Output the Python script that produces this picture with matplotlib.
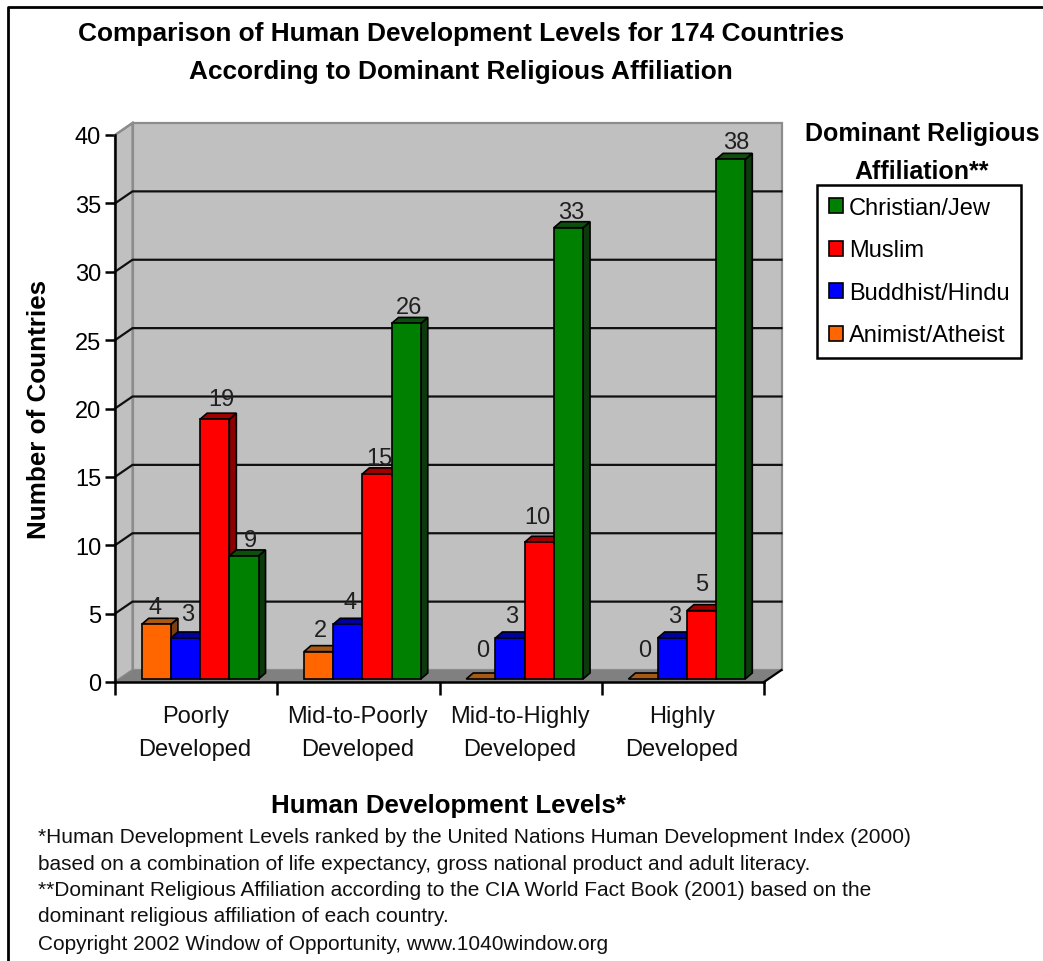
"""
Grouped pseudo-3D bar chart: human development level by dominant religious affiliation.
"""

import matplotlib
matplotlib.use("Agg")
import matplotlib.pyplot as plt
from matplotlib.lines import Line2D
from matplotlib.patches import Patch, Polygon

plt.rcParams["font.family"] = ["Liberation Sans", "DejaVu Sans"]

levels = ["Poorly\nDeveloped", "Mid-to-Poorly\nDeveloped", "Mid-to-Highly\nDeveloped", "Highly\nDeveloped"]
animist = [4, 2, 0, 0]
buddhist = [3, 4, 3, 3]
muslim = [19, 15, 10, 5]
christian = [9, 26, 33, 38]
y_ticks = [0, 5, 10, 15, 20, 25, 30, 35, 40]

# (values, front colour, top colour, side colour) from left to right within a group
series = [
    (animist, "#ff6600", "#a85a14", "#7a3e10"),
    (buddhist, "#0000ff", "#0000a0", "#000070"),
    (muslim, "#ff0000", "#a00000", "#8c0000"),
    (christian, "#008000", "#0c500c", "#0c3a0c"),
]
legend_names = ["Christian/Jew", "Muslim", "Buddhist/Hindu", "Animist/Atheist"]
legend_colors = ["#008000", "#ff0000", "#0000ff", "#ff6600"]

# hand placement of some value labels, (group, series): (dx, dy) in pixels
label_nudge = {
    (0, 0): (-3, -5), (0, 1): (0, 2), (0, 2): (5, -2), (0, 3): (5, -6),
    (1, 2): (0, -6), (1, 3): (1, -6),
    (2, 2): (-4, 3), (2, 3): (1, -6),
    (3, 2): (-2, 5), (3, 3): (4, -5),
}

W, H = 1043, 962
fig = plt.figure(figsize=(W / 100, H / 100), dpi=100, facecolor="white")
LEFT, RIGHT, TOP, BOTTOM = 115, 764, 136, 683
ax = fig.add_axes([LEFT / W, 1 - BOTTOM / H, (RIGHT - LEFT) / W, (BOTTOM - TOP) / H])
ax.set_xlim(0, 4)
ax.set_ylim(0, 40)
ax.patch.set_visible(False)

# pixel sizes expressed in data units
px_x = 4 / (RIGHT - LEFT)
px_y = 40 / (BOTTOM - TOP)
wall_dx, wall_dy = 17.5 * px_x, 12 * px_y
bar_dx, bar_dy = 4 * px_x, 3 * px_y
side_dx, side_dy = 7 * px_x, 6 * px_y


def poly(points, color, edge="none", lw=0.0, z=1):
    ax.add_patch(Polygon(points, closed=True, facecolor=color, edgecolor=edge, linewidth=lw, zorder=z, clip_on=False))


# back wall, left wall and floor
wall_grey = "#c0c0c0"
frame_grey = "#8c8c8c"
poly([(wall_dx, wall_dy), (4 + wall_dx, wall_dy), (4 + wall_dx, 40 + wall_dy), (wall_dx, 40 + wall_dy)], wall_grey, frame_grey, 1.6)
poly([(0, 0), (wall_dx, wall_dy), (wall_dx, 40 + wall_dy), (0, 40)], wall_grey, frame_grey, 1.6)
poly([(0, 0), (4, 0), (4 + wall_dx, wall_dy), (wall_dx, wall_dy)], "#808080", z=1.5)
ax.plot([4, 4 + wall_dx], [0, wall_dy], color="black", lw=1.6, clip_on=False, zorder=2)

for v in y_ticks[1:-1]:
    ax.plot([0, wall_dx, 4 + wall_dx], [v, v + wall_dy, v + wall_dy], color="#101010", lw=1.6, clip_on=False, zorder=2)
ax.plot([0, wall_dx], [40, 40 + wall_dy], color=frame_grey, lw=1.6, clip_on=False, zorder=2)

# bars, left to right so that each one covers the side of the previous one
bar_w = 0.18
group_w = bar_w * len(series)
z = 3
for g in range(len(levels)):
    x0 = g + (1 - group_w) / 2 + bar_dx
    for s, (vals, front, top_c, side_c) in enumerate(series):
        v = vals[g]
        xl = x0 + s * bar_w
        xr = xl + bar_w
        y0 = bar_dy
        y1 = v + bar_dy
        poly([(xr, y0), (xr + side_dx, y0 + side_dy), (xr + side_dx, y1 + side_dy), (xr, y1)], side_c, "black", 1.2, z)
        poly([(xl, y1), (xr, y1), (xr + side_dx, y1 + side_dy), (xl + side_dx, y1 + side_dy)], top_c, "black", 1.2, z)
        if v > 0:
            ax.bar(xl, v, width=bar_w, bottom=y0, align="edge", color=front, edgecolor="black", linewidth=1.2, zorder=z, clip_on=False)
        z += 0.01
        gap = 29 if v == 0 else 22
        nx, ny = label_nudge.get((g, s), (0, 0))
        ax.text(xl + bar_w / 2 + (2 + nx) * px_x, y1 + (gap + ny) * px_y, str(v), ha="center", va="center",
                fontsize=17, color="#202020", zorder=10)

# axes and ticks
for side in ("top", "right"):
    ax.spines[side].set_visible(False)
for side in ("left", "bottom"):
    ax.spines[side].set_linewidth(1.8)
    ax.spines[side].set_zorder(20)
ax.set_yticks(y_ticks)
ax.set_xticks(range(5))
ax.set_xticklabels([])
ax.tick_params(axis="y", length=7, width=1.8, labelsize=17, pad=3, direction="out")
ax.tick_params(axis="x", length=9, width=1.8, direction="out")
for g, label in enumerate(levels):
    ax.text(g + 0.5 - 1 * px_x, -3.7, label, ha="center", va="center", fontsize=17, linespacing=1.62, color="#101010")

# titles
fig.text(461 / W, 1 - 53 / H, "Comparison of Human Development Levels for 174 Countries\nAccording to Dominant Religious Affiliation",
         ha="center", va="center", fontsize=18.9, fontweight="bold", linespacing=1.72)
fig.text(39 / W, 1 - 409 / H, "Number of Countries", rotation=90, ha="center", va="center", fontsize=18.7, fontweight="bold")
fig.text(448 / W, 1 - 806 / H, "Human Development Levels*", ha="center", va="center", fontsize=18.6, fontweight="bold")
fig.text(922 / W, 1 - 153 / H, "Dominant Religious\nAffiliation**", ha="center", va="center", fontsize=18, fontweight="bold", linespacing=1.7)

# legend
handles = [Patch(facecolor=c, edgecolor="black", linewidth=1.2) for c in legend_colors]
legend = fig.legend(handles, legend_names, loc="upper left", bbox_to_anchor=(817 / W, 1 - 186 / H), borderaxespad=0,
                    fontsize=17, frameon=True, fancybox=False, framealpha=1, edgecolor="black", borderpad=0.5,
                    labelspacing=0.87, handlelength=0.6, handleheight=0.6, handletextpad=0.25)
legend.get_frame().set_linewidth(1.8)

# footnotes
notes = [
    "*Human Development Levels ranked by the United Nations Human Development Index (2000)",
    "based on a combination of life expectancy, gross national product and adult literacy.",
    "**Dominant Religious Affiliation according to the CIA World Fact Book (2001) based on the",
    "dominant religious affiliation of each country.",
    "Copyright 2002 Window of Opportunity, www.1040window.org",
]
note_y = [838, 864, 891, 917, 945]
for text, y in zip(notes, note_y):
    fig.text(38 / W, 1 - y / H, text, ha="left", va="center", fontsize=15.05, color="#101010")

# page border along the left and top edges
fig.add_artist(Line2D([8 / W, 8 / W, 1], [0, 1 - 8 / H, 1 - 8 / H], transform=fig.transFigure, color="black", lw=2))

fig.savefig("out.png", dpi=100)
